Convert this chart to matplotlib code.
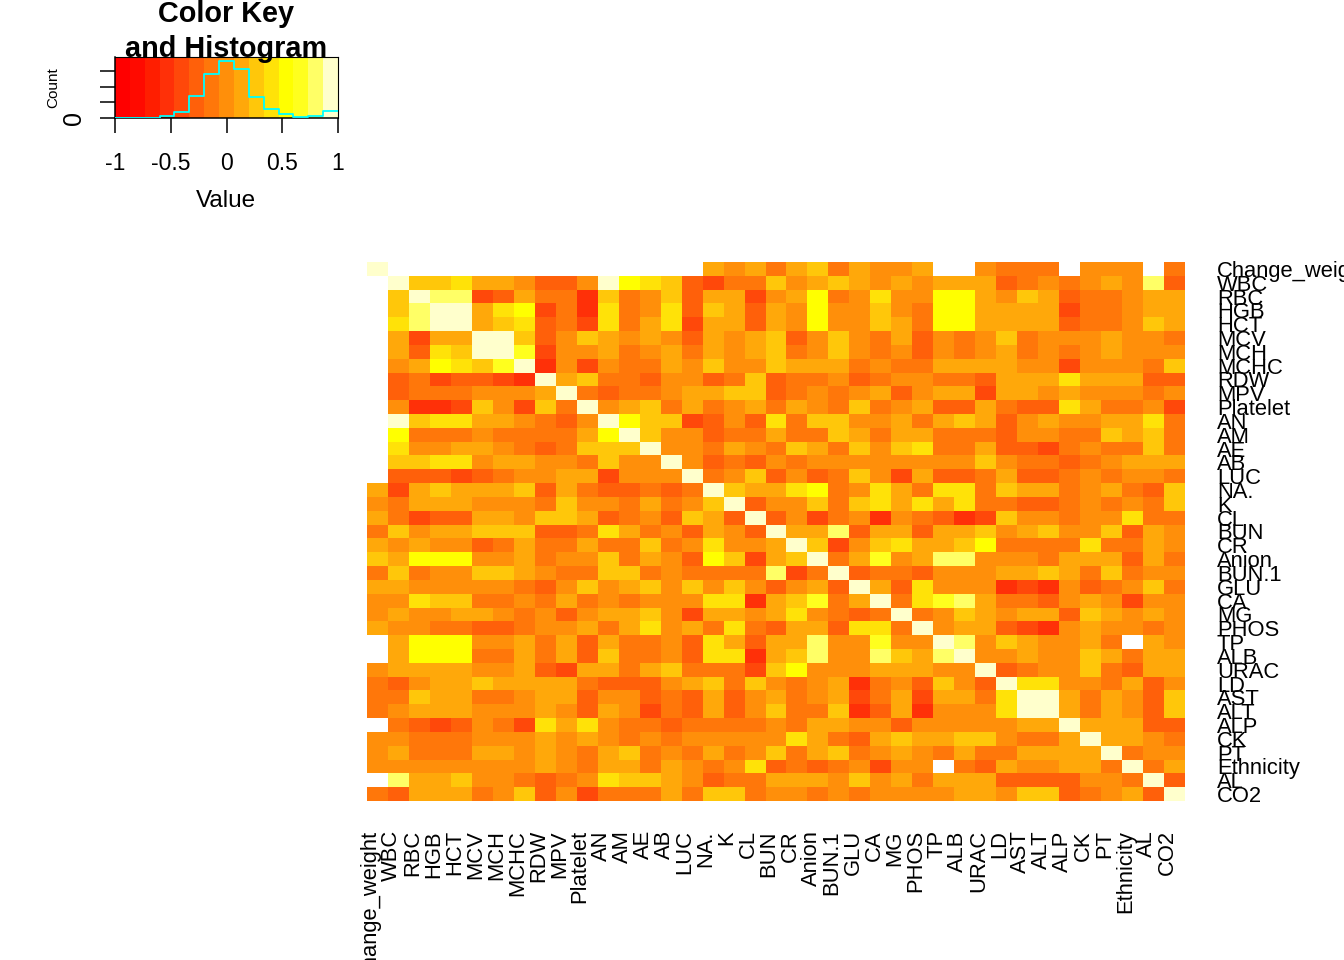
#!/usr/bin/env python3
import numpy as np
import matplotlib
matplotlib.use('Agg')
import matplotlib.pyplot as plt
from matplotlib.colors import ListedColormap, BoundaryNorm

plt.rcParams['font.family'] = ['Liberation Sans', 'DejaVu Sans']

# --- DATA ---
LABELS = ["Change_weight", "WBC", "RBC", "HGB", "HCT", "MCV", "MCH", "MCHC", "RDW", "MPV",
          "Platelet", "AN", "AM", "AE", "AB", "LUC", "NA.", "K", "CL", "BUN",
          "CR", "Anion", "BUN.1", "GLU", "CA", "MG", "PHOS", "TP", "ALB", "URAC",
          "LD", "AST", "ALT", "ALP", "CK", "PT", "Ethnicity", "AL", "CO2"]

# colour key: 15 bins from -1 to 1
KEY_COLORS = ["#FF0000", "#FF0A00", "#FF1E00", "#FF3008", "#FF480A", "#FF600A", "#FF770A", "#FF8F0A",
              "#FFA80A", "#FFC70A", "#FFE208", "#FFFF00", "#FFFF1E", "#FFFF66", "#FFFFCC"]
KEY_TICKS = [-1, -0.5, 0, 0.5, 1]
HIST_COUNTS = [0, 0, 0, 15, 37, 144, 284, 366, 316, 133, 56, 26, 4, 15, 45]
COUNT_TICKS = [0, 100, 200, 300]

# upper triangle of the correlation matrix, one row per variable starting at the diagonal
# each char is a key bin in hex (3..E), '.' is a missing value
UPPER_ROWS = [
    "E...............8786896877 8..7666.777.6".replace(" ", ""),
    "E99A88755 7EBA95466 9789878788 856767 87D5".replace(" ", ""),
    "EDD4586639 6795884 78B67A77BB 87985667 88".replace(" ", ""),
    "EE8AB463A6 7A598587 B779 76BB8888 46678 8".replace(" ", ""),
    "E89A564A68 A48858 7B7798 6BB8888 56 6798".replace(" ", ""),
    "EE9579 87875 87895 7976 857 679 67778 776".replace(" ", ""),
    "EC477 8678 68789 6797 67 5767 8 6767 8777".replace(" ", ""),
    "E3747 668 79779 888 67 66 8888 77 4777 69".replace(" ", ""),
    "E89665 775 69 566 75 67 766 58 88A888 55".replace(" ", ""),
    "E6566 788 995 676 785 788 4 887 8777 67".replace(" ", ""),
    "E7896 8678 68 769 678 55 86 55A8 66 74".replace(" ", ""),
    "EB994 575A 699 778 689 857 877 88A6".replace(" ", ""),
    "E9775 668 669 868 8666 577 669 896".replace(" ", ""),
    "E7768 769 86 97 9A 668 55 46 766 96".replace(" ", ""),
    "E7565 76 77777777 976 656 7888".replace(" ", ""),
    "E679 575 697 48 55 68 55 67 677 6".replace(" ", ""),
    "E988 AB 67A 86AA 698 86 786 59".replace(" ", ""),
    "E577 96 9A8A 8A66 55 676 769".replace(" ", ""),
    "E574 67 37 653 49 77 677 A66".replace(" ", ""),
    "E88D 588 588 978 977 9587".replace(" ", ""),
    "E947 9A88 9B 6666 A66 87".replace(" ", ""),
    "E68C 78DD 777 68 885 86".replace(" ", ""),
    "E566 5777 88 986 967 7".replace(" ", ""),
    "E85A 777 343 756 796".replace(" ", ""),
    "E6AC D86 657 874 77".replace(" ", ""),
    "E679 878 859 878 7".replace(" ", ""),
    "E788 543 787 767".replace(" ", ""),
    "ED79 877 86.87".replace(" ", ""),
    "E778 779 8688".replace(" ", ""),
    "E567 796 588".replace(" ", ""),
    "EAA7 768 57".replace(" ", ""),
    "EE86 875 9".replace(" ", ""),
    "E868 759".replace(" ", ""),
    "E888 55".replace(" ", ""),
    "E8876".replace(" ", ""),
    "E677".replace(" ", ""),
    "E68".replace(" ", ""),
    "E5".replace(" ", ""),
    "E",
]

# --- LAYOUT (pixels of the 1344x960 figure) ---
W, H = 1344, 960


def px_axes(fig, x0, y0, x1, y1):
    return fig.add_axes([x0 / W, 1 - y1 / H, (x1 - x0) / W, (y1 - y0) / H])


n = len(LABELS)
bin_width = 2 / len(KEY_COLORS)
edges = np.linspace(-1, 1, len(KEY_COLORS) + 1)

corr = np.full((n, n), np.nan)
for i, row in enumerate(UPPER_ROWS):
    for k, ch in enumerate(row):
        if ch != '.':
            corr[i, i + k] = corr[i + k, i] = -1 + (int(ch, 16) + 0.5) * bin_width

cmap = ListedColormap(KEY_COLORS)
cmap.set_bad("white")
norm = BoundaryNorm(edges, cmap.N)

fig = plt.figure(figsize=(W / 100, H / 100), dpi=100)

# --- heatmap ---
ax = px_axes(fig, 367, 262, 1185, 801)
ax.pcolormesh(np.arange(n + 1), np.arange(n + 1), corr, cmap=cmap, norm=norm)
ax.set_xlim(0, n)
ax.set_ylim(n, 0)
for s in ax.spines.values():
    s.set_visible(False)
ax.yaxis.tick_right()
# labels sit a little below the row centre and left of the column centre, as R put them
ax.set_yticks(np.arange(n) + 0.68, LABELS, fontsize=15.8, va='center')
ax.set_xticks(np.arange(n) + 1 / 6, LABELS, fontsize=15.8, rotation=90, ha='center', va='top')
ax.tick_params(axis='both', length=0)
ax.tick_params(axis='y', pad=23)
ax.tick_params(axis='x', pad=21)

# --- colour key and histogram ---
key = px_axes(fig, 115, 57, 338, 118)
key.pcolormesh(edges, [0, 393], (edges[:-1] + bin_width / 2)[np.newaxis, :], cmap=cmap, norm=norm)
key.step(edges, HIST_COUNTS + HIST_COUNTS[-1:], where='post', color='cyan', lw=1.3, zorder=3)
key.set_xlim(-1, 1)
key.set_ylim(0, 393)
key.set_xticks(KEY_TICKS, ['-1', '-0.5', '0', '0.5', '1'], fontsize=16.5)
key.set_yticks(COUNT_TICKS, ['0', '', '', ''], fontsize=18, rotation=90, va='center')
key.tick_params(axis='both', length=10.8, width=1.1, color='black')
key.tick_params(axis='x', pad=14)
key.tick_params(axis='y', pad=10)
for s in key.spines.values():
    s.set_linewidth(0.8)
key.spines['left'].set_linewidth(1.1)
key.spines['bottom'].set_linewidth(1.1)

fig.text(226 / W, 1 - 201 / H, "Value", fontsize=17.5, ha='center', va='center')
fig.text(53 / W, 1 - 88 / H, "Count", fontsize=11, rotation=90, ha='center', va='center')
fig.text(226 / W, 1 - 22 / H, "Color Key", fontsize=20.8, fontweight='bold', ha='center', va='baseline')
fig.text(226 / W, 1 - 57 / H, "and Histogram", fontsize=20.8, fontweight='bold',
         ha='center', va='baseline', zorder=10)

fig.savefig("out.png", dpi=100)
